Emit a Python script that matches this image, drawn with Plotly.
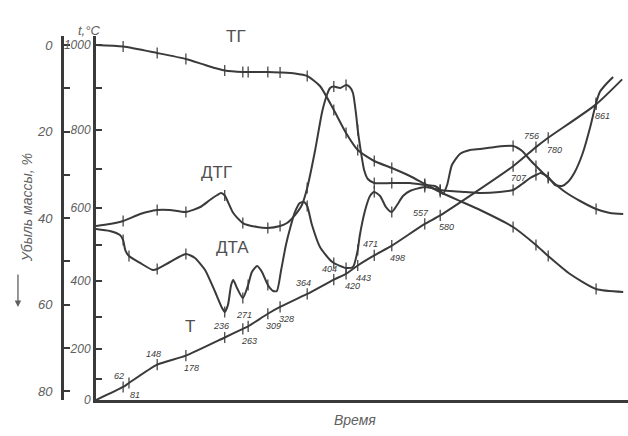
import numpy as np
import plotly.graph_objects as go

# ---------------- data ----------------
# time axis: arbitrary units 0..100 ("Время")
# TG: mass loss, %
TG_TIME = [0, 5.1, 11.5, 16.9, 20.5, 24.2, 27.6, 28.6, 32.3, 34.6, 37.4, 39.7, 42.1, 44.7,
           47.0, 49.2, 52.3, 55.6, 59.0, 61.8, 64.7, 68.4, 72.2, 78.4, 82.7, 85.0, 89.1, 94.0, 99.1]
TG_LOSS = [0, 0.35, 1.85, 3.24, 4.62, 5.90, 6.24, 6.24, 6.24, 6.36, 6.59, 7.17, 9.48, 15.03,
           20.35, 24.28, 26.82, 28.44, 30.29, 32.14, 33.99, 36.07, 38.15, 42.08, 46.24, 48.79, 52.95, 56.42, 57.11]

# DTG signal (relative, read against the mass-loss scale)
DTG_TIME = [0, 2.6, 5.1, 8.3, 11.5, 13.9, 16.9, 19.6, 21.4, 22.8, 23.5, 24.2, 25.8, 27.6, 30.3,
            32.3, 34.6, 35.9, 37.4, 38.7, 39.7, 41.2, 42.5, 43.4, 44.0, 44.7, 45.9, 47.0, 47.7,
            48.3, 48.9, 49.2, 49.6, 50.4, 51.1, 52.3, 55.6, 59.0, 61.8, 63.7, 64.7, 65.2, 66.0,
            66.9, 68.4, 70.3, 72.2, 75.0, 78.4, 80.1, 81.6, 82.7, 85.0, 86.3, 88.2, 91.0, 94.0, 96.6, 99.1]
DTG_SIGNAL = [41.85, 41.39, 40.69, 39.08, 38.15, 38.15, 38.61, 37.46, 35.84, 34.68, 34.22, 34.8,
              38.84, 41.16, 42.08, 42.31, 41.85, 41.16, 39.31, 36.99, 33.06, 24.28, 15.49, 11.56,
              9.94, 9.6, 9.94, 9.25, 9.71, 11.10, 16.18, 19.65, 23.12, 28.90, 30.98, 31.91, 31.91,
              31.91, 32.37, 32.60, 33.53, 34.45, 32.37, 27.75, 25.20, 24.28, 24.05, 23.58, 23.35,
              24.51, 26.59, 27.98, 30.75, 32.14, 33.99, 36.07, 37.92, 38.84, 39.08]

# DTA signal (relative, read against the mass-loss scale)
DTA_TIME = [0, 2.6, 4.5, 5.1, 5.5, 6.2, 8.3, 10.7, 11.5, 13.9, 16.9, 18.6, 20.5, 22.4, 23.7,
            24.2, 24.8, 25.4, 25.8, 26.5, 27.6, 28.6, 29.3, 30.3, 31.2, 32.3, 33.3, 34.0, 34.8,
            35.7, 36.5, 37.4, 38.3, 39.1, 39.7, 40.6, 42.1, 44.0, 44.7, 46.4, 47.0, 48.3, 49.2,
            49.6, 50.6, 51.5, 52.3, 53.4, 54.5, 55.6, 56.6, 57.7, 59.0, 61.8, 64.7, 66.5, 69.4,
            72.2, 75.9, 78.4, 80.1, 81.6, 82.7, 83.6, 85.0, 86.3, 87.6, 88.7, 90.0, 91.5, 92.9,
            94.0, 94.7, 95.9, 97.2]
DTA_SIGNAL = [42.54, 43.01, 43.93, 45.09, 47.40, 48.79, 50.40, 52.02, 51.79, 50.17, 48.32, 49.25,
              52.02, 57.11, 60.81, 61.73, 60.12, 55.49, 54.34, 56.18, 58.50, 55.49, 52.49, 51.10,
              52.49, 55.49, 56.88, 56.88, 52.02, 46.24, 42.31, 38.61, 36.53, 36.30, 37.23, 41.62,
              46.71, 49.71, 50.40, 51.33, 51.56, 51.33, 47.40, 43.93, 38.15, 34.91, 33.99, 34.91,
              37.46, 38.61, 36.99, 34.91, 33.76, 32.83, 33.53, 33.76, 33.99, 34.22, 33.99, 33.53,
              32.14, 30.75, 30.06, 29.60, 30.52, 32.37, 32.60, 31.68, 29.36, 24.97, 18.96, 13.41,
              10.87, 9.02, 7.40]

# T: temperature, °C (values are the figures written along the curve)
T_TIME = [0, 5.1, 6.2, 11.5, 16.9, 24.2, 27.6, 28.6, 32.3, 34.6, 39.7, 44.7, 47.0, 49.2, 52.3,
          55.6, 61.8, 64.7, 78.4, 82.7, 85.0, 94.0, 98.9]
T_VALUE = [0, 62, 81, 148, 178, 236, 263, 271, 309, 328, 364, 404, 420, 443, 471, 498, 557,
           580, 707, 756, 780, 861, 920]

# the instrument's (non-linear) temperature scale, as it sits against the mass-loss scale
TEMP_SCALE_T = [0, 100, 200, 300, 400, 500, 600, 700, 800, 900, 1000]
TEMP_SCALE_AT = [82.08, 77.23, 70.29, 62.89, 54.57, 46.24, 37.69, 28.67, 19.65, 9.94, 0.0]

MASS_TICKS = [0, 10, 20, 30, 40, 50, 60, 70, 80]
MASS_LABELS = ["0", "", "20", "", "40", "", "60", "", "80"]
TEMP_LABELS = ["0", "", "200", "", "400", "", "600", "", "800", "", "1000"]

# ---------------- figure ----------------
INK = "#3a3a3a"
GREY = "#606060"
FONT = "Liberation Sans"
MARK_SET = {round(t, 1) for t in T_TIME[1:-1]}


def temp_scale(values):
    return np.interp(values, TEMP_SCALE_T, TEMP_SCALE_AT)


fig = go.Figure()


def add_curve(tt, vv, yaxis="y"):
    fig.add_trace(go.Scatter(x=tt, y=vv, mode="lines", yaxis=yaxis,
                             line=dict(color=INK, width=2, shape="spline", smoothing=0.6),
                             hoverinfo="skip", showlegend=False))
    mt = [t for t in tt if round(t, 1) in MARK_SET]
    mv = [v for t, v in zip(tt, vv) if round(t, 1) in MARK_SET]
    fig.add_trace(go.Scatter(x=mt, y=mv, mode="markers", yaxis=yaxis,
                             marker=dict(symbol="line-ns-open", size=8, color=INK,
                                         line=dict(color=INK, width=1.2)),
                             hoverinfo="skip", showlegend=False))


add_curve(TG_TIME, TG_LOSS)
add_curve(DTG_TIME, DTG_SIGNAL)
add_curve(DTA_TIME, DTA_SIGNAL)
T_POS = temp_scale(T_VALUE)
add_curve(T_TIME, list(T_POS), yaxis="y2")

# temperature figures along T curve (a = above-left, b = below-right)
LABEL_SIDE = ["a", "b", "a", "b", "a", "b", "a", "b", "b", "a", "a", "b", "b", "a", "b",
              "a", "b", "b", "a", "b", "b"]
for t, v, p, side in zip(T_TIME[1:-1], T_VALUE[1:-1], T_POS[1:-1], LABEL_SIDE):
    fig.add_annotation(x=t, y=p, yref="y2", text=str(v), showarrow=False,
                       xshift=-4 if side == "a" else 6, yshift=11 if side == "a" else -12,
                       font=dict(family=FONT, size=9, color=INK, style="italic"))

# curve names
for txt, t, m in [("ТГ", 26.3, -1.9), ("ДТГ", 22.6, 29.4), ("ДТА", 25.6, 46.9), ("Т", 17.7, 65.0)]:
    fig.add_annotation(x=t, y=m, text=txt, showarrow=False,
                       font=dict(family=FONT, size=17, color="#505050"))

fig.add_annotation(xref="paper", yref="paper", x=0.024, y=1.04, text="t,°C", showarrow=False,
                   font=dict(family=FONT, size=13, color=GREY, style="italic"))
fig.add_annotation(xref="paper", yref="paper", x=-0.0795, y=0.527, textangle=-90,
                   text="Убыль массы, %", showarrow=False,
                   font=dict(family=FONT, size=14, color=GREY, style="italic"))
fig.add_annotation(xref="paper", yref="paper", x=-0.0778, y=0.2555, text="", showarrow=True,
                   ax=0, ay=-34, arrowhead=2, arrowsize=1, arrowwidth=1.3, arrowcolor=GREY)
fig.add_annotation(xref="paper", yref="paper", x=0.5177, y=-0.0275, text="Время", showarrow=False,
                   yanchor="top", font=dict(family=FONT, size=14, color=GREY, style="italic"))

fig.update_layout(
    width=628, height=436,
    margin=dict(l=62, r=0, t=36, b=36, autoexpand=False),
    paper_bgcolor="white", plot_bgcolor="white",
    showlegend=False,
    xaxis=dict(domain=[34 / 566, 1], range=[0, 100], showline=True, linewidth=3, linecolor=INK,
               showticklabels=False, ticks="", showgrid=False, zeroline=False, automargin=False),
    yaxis=dict(anchor="free", position=0, range=[82.08, -2.08], tickvals=MASS_TICKS,
               ticktext=MASS_LABELS, ticks="inside", ticklen=6, tickwidth=1.5, tickcolor=INK,
               showline=True, linewidth=3, linecolor=INK, showgrid=False, zeroline=False,
               automargin=False, ticklabelstandoff=6,
               tickfont=dict(family=FONT, size=13, color=GREY, style="italic")),
    yaxis2=dict(overlaying="y", anchor="x", side="left", range=[82.08, -2.08],
                tickvals=TEMP_SCALE_AT, ticktext=TEMP_LABELS, ticks="inside", ticklen=6,
                tickwidth=1.5, tickcolor=INK, showline=True, linewidth=3, linecolor=INK,
                showgrid=False, zeroline=False, automargin=False,
                tickfont=dict(family=FONT, size=12, color=GREY, style="italic")),
)

fig.write_html("out.html", config={"displayModeBar": False},
               post_script="document.body.style.margin='0';")
